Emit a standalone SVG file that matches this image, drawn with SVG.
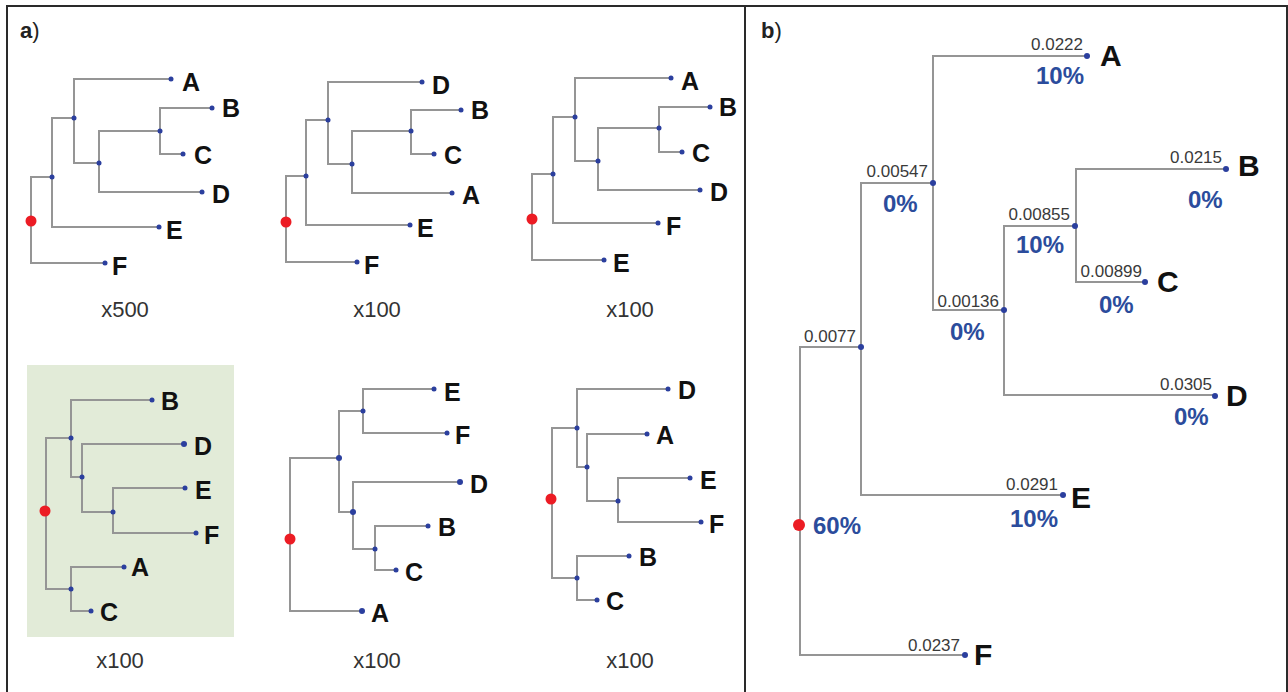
<svg xmlns="http://www.w3.org/2000/svg" width="1288" height="692" viewBox="0 0 1288 692">
<style>
text{font-family:"Liberation Sans",Arial,sans-serif}
.edge{fill:none;stroke:#959595;stroke-width:2}
.frame{fill:none;stroke:#2a2a2a;stroke-width:2}
.dot{fill:#2b3f9e}
.root{fill:#ec1c24}
.leaf{font-size:25px;font-weight:bold;fill:#111}
.big{font-size:30px;font-weight:bold;fill:#111}
.cap{font-size:22px;fill:#333;text-anchor:middle}
.num{font-size:17px;fill:#3a3a3a;text-anchor:end}
.pct{font-size:24px;font-weight:bold;fill:#2b4c9c}
.panel{font-size:22px;fill:#222}
</style>
<rect width="1288" height="692" fill="#fff"/>
<g id="frame">
<path class="frame" d="M7,692 V6 H1287 V692 M745,6 V692"/>
<text class="panel" x="20" y="38"><tspan font-weight="bold">a</tspan>)</text>
<text class="panel" x="761" y="38"><tspan font-weight="bold">b</tspan>)</text>
</g>
<rect id="highlight" x="27" y="365" width="207" height="272" fill="#e2ebd8"/>
<g id="connectors">
<path class="edge" d="M52,177 H31 V263 H105 M74,118 H52 V227 H159 M171,79 H74 V163 H99 M160,131 H99 V192 H202 M212,108 H160 V154 H183"/>
<path class="edge" d="M306,176 H286 V262 H357 M328,120 H306 V225 H410 M422,82 H328 V164 H352 M411,131 H352 V193 H452 M461,110 H411 V154 H434"/>
<path class="edge" d="M553,174 H532 V260 H604 M575,117 H553 V223 H658 M671,78 H575 V161 H598 M659,128 H598 V190 H700 M710,107 H659 V152 H682"/>
<path class="edge" d="M71,438 H46 V589 H71 M152,400 H71 V477 H82 M184,444 H82 V512 H113 M185,488 H113 V533 H196 M124,567 H71 V611 H91"/>
<path class="edge" d="M339,458 H290 V611 H362 M363,411 H339 V512 H353 M434,389 H363 V433 H447 M460,482 H353 V549 H375 M428,526 H375 V570 H396"/>
<path class="edge" d="M577,428 H552 V578 H577 M668,389 H577 V467 H587 M647,434 H587 V501 H618 M690,478 H618 V522 H701 M629,556 H577 V600 H597"/>
<path class="edge" d="M860,347 H800 V655 H965 M933,183 H861 V495 H1063 M1087,56 H933 V310 H1004 M1076,226 H1004 V395 H1215 M1226,169 H1076 V282 H1145"/>
</g>

<g id="tree1">
<g id="t1-root"><circle class="root" cx="31" cy="221" r="5.5"/></g>
<g id="t1-n1"><circle class="dot" cx="52" cy="177" r="2.5"/></g>
<g id="t1-n2"><circle class="dot" cx="74" cy="118" r="2.5"/></g>
<g id="t1-n3"><circle class="dot" cx="99" cy="163" r="2.5"/></g>
<g id="t1-n4"><circle class="dot" cx="160" cy="131" r="2.5"/></g>
<g id="t1-A"><circle class="dot" cx="171" cy="79" r="2.5"/><text class="leaf" x="182" y="91">A</text></g>
<g id="t1-B"><circle class="dot" cx="212" cy="108" r="2.5"/><text class="leaf" x="222" y="117">B</text></g>
<g id="t1-C"><circle class="dot" cx="183" cy="154" r="2.5"/><text class="leaf" x="194" y="164">C</text></g>
<g id="t1-D"><circle class="dot" cx="202" cy="192" r="2.5"/><text class="leaf" x="212" y="203">D</text></g>
<g id="t1-E"><circle class="dot" cx="159" cy="227" r="2.5"/><text class="leaf" x="166" y="239">E</text></g>
<g id="t1-F"><circle class="dot" cx="105" cy="263" r="2.5"/><text class="leaf" x="112" y="275">F</text></g>
<text class="cap" x="125" y="317">x500</text>
</g>

<g id="tree2">
<g id="t2-root"><circle class="root" cx="286" cy="222" r="5.5"/></g>
<g id="t2-n1"><circle class="dot" cx="306" cy="176" r="2.5"/></g>
<g id="t2-n2"><circle class="dot" cx="328" cy="120" r="2.5"/></g>
<g id="t2-n3"><circle class="dot" cx="352" cy="164" r="2.5"/></g>
<g id="t2-n4"><circle class="dot" cx="411" cy="131" r="2.5"/></g>
<g id="t2-D"><circle class="dot" cx="422" cy="82" r="2.5"/><text class="leaf" x="432" y="94">D</text></g>
<g id="t2-B"><circle class="dot" cx="461" cy="110" r="2.5"/><text class="leaf" x="471" y="119">B</text></g>
<g id="t2-C"><circle class="dot" cx="434" cy="154" r="2.5"/><text class="leaf" x="444" y="164">C</text></g>
<g id="t2-A"><circle class="dot" cx="452" cy="193" r="2.5"/><text class="leaf" x="462" y="204">A</text></g>
<g id="t2-E"><circle class="dot" cx="410" cy="225" r="2.5"/><text class="leaf" x="417" y="237">E</text></g>
<g id="t2-F"><circle class="dot" cx="357" cy="262" r="2.5"/><text class="leaf" x="364" y="274">F</text></g>
<text class="cap" x="377" y="317">x100</text>
</g>

<g id="tree3">
<g id="t3-root"><circle class="root" cx="532" cy="219" r="5.5"/></g>
<g id="t3-n1"><circle class="dot" cx="553" cy="174" r="2.5"/></g>
<g id="t3-n2"><circle class="dot" cx="575" cy="117" r="2.5"/></g>
<g id="t3-n3"><circle class="dot" cx="598" cy="161" r="2.5"/></g>
<g id="t3-n4"><circle class="dot" cx="659" cy="128" r="2.5"/></g>
<g id="t3-A"><circle class="dot" cx="671" cy="78" r="2.5"/><text class="leaf" x="681" y="90">A</text></g>
<g id="t3-B"><circle class="dot" cx="710" cy="107" r="2.5"/><text class="leaf" x="719" y="116">B</text></g>
<g id="t3-C"><circle class="dot" cx="682" cy="152" r="2.5"/><text class="leaf" x="692" y="162">C</text></g>
<g id="t3-D"><circle class="dot" cx="700" cy="190" r="2.5"/><text class="leaf" x="710" y="201">D</text></g>
<g id="t3-F"><circle class="dot" cx="658" cy="223" r="2.5"/><text class="leaf" x="666" y="235">F</text></g>
<g id="t3-E"><circle class="dot" cx="604" cy="260" r="2.5"/><text class="leaf" x="613" y="272">E</text></g>
<text class="cap" x="630" y="317">x100</text>
</g>

<g id="tree4">
<g id="t4-root"><circle class="root" cx="45" cy="511" r="5.5"/></g>
<g id="t4-n1"><circle class="dot" cx="71" cy="438" r="2.5"/></g>
<g id="t4-n2"><circle class="dot" cx="82" cy="477" r="2.5"/></g>
<g id="t4-n3"><circle class="dot" cx="113" cy="512" r="2.5"/></g>
<g id="t4-n5"><circle class="dot" cx="71" cy="589" r="2.5"/></g>
<g id="t4-B"><circle class="dot" cx="152" cy="400" r="2.5"/><text class="leaf" x="161" y="410">B</text></g>
<g id="t4-D"><circle class="dot" cx="184" cy="444" r="3"/><text class="leaf" x="194" y="455">D</text></g>
<g id="t4-E"><circle class="dot" cx="185" cy="488" r="2.5"/><text class="leaf" x="195" y="499">E</text></g>
<g id="t4-F"><circle class="dot" cx="196" cy="533" r="2.5"/><text class="leaf" x="204" y="544">F</text></g>
<g id="t4-A"><circle class="dot" cx="124" cy="567" r="2.5"/><text class="leaf" x="131" y="576">A</text></g>
<g id="t4-C"><circle class="dot" cx="91" cy="611" r="2.5"/><text class="leaf" x="100" y="621">C</text></g>
<text class="cap" x="120" y="668">x100</text>
</g>

<g id="tree5">
<g id="t5-root"><circle class="root" cx="290" cy="539" r="5.5"/></g>
<g id="t5-n1"><circle class="dot" cx="339" cy="458" r="3"/></g>
<g id="t5-n2"><circle class="dot" cx="363" cy="411" r="2.5"/></g>
<g id="t5-n3"><circle class="dot" cx="353" cy="512" r="3"/></g>
<g id="t5-n4"><circle class="dot" cx="375" cy="549" r="2.5"/></g>
<g id="t5-E"><circle class="dot" cx="434" cy="389" r="2.5"/><text class="leaf" x="444" y="401">E</text></g>
<g id="t5-F"><circle class="dot" cx="447" cy="433" r="2.5"/><text class="leaf" x="455" y="444">F</text></g>
<g id="t5-D"><circle class="dot" cx="460" cy="482" r="3"/><text class="leaf" x="470" y="493">D</text></g>
<g id="t5-B"><circle class="dot" cx="428" cy="526" r="2.5"/><text class="leaf" x="438" y="536">B</text></g>
<g id="t5-C"><circle class="dot" cx="396" cy="570" r="2.5"/><text class="leaf" x="405" y="581">C</text></g>
<g id="t5-A"><circle class="dot" cx="362" cy="611" r="3"/><text class="leaf" x="371" y="622">A</text></g>
<text class="cap" x="377" y="668">x100</text>
</g>

<g id="tree6">
<g id="t6-root"><circle class="root" cx="551" cy="499" r="5.5"/></g>
<g id="t6-n1"><circle class="dot" cx="577" cy="428" r="2.5"/></g>
<g id="t6-n2"><circle class="dot" cx="587" cy="467" r="2.5"/></g>
<g id="t6-n3"><circle class="dot" cx="618" cy="501" r="2.5"/></g>
<g id="t6-n5"><circle class="dot" cx="577" cy="578" r="2.5"/></g>
<g id="t6-D"><circle class="dot" cx="668" cy="389" r="2.5"/><text class="leaf" x="678" y="399">D</text></g>
<g id="t6-A"><circle class="dot" cx="647" cy="434" r="2.5"/><text class="leaf" x="656" y="444">A</text></g>
<g id="t6-E"><circle class="dot" cx="690" cy="478" r="2.5"/><text class="leaf" x="700" y="489">E</text></g>
<g id="t6-F"><circle class="dot" cx="701" cy="522" r="2.5"/><text class="leaf" x="709" y="533">F</text></g>
<g id="t6-B"><circle class="dot" cx="629" cy="556" r="2.5"/><text class="leaf" x="639" y="566">B</text></g>
<g id="t6-C"><circle class="dot" cx="597" cy="600" r="2.5"/><text class="leaf" x="606" y="610">C</text></g>
<text class="cap" x="630" y="668">x100</text>
</g>

<g id="treeb">
<g id="b-root"><circle class="root" cx="799" cy="525" r="6"/><text class="pct" x="813" y="534">60%</text></g>
<g id="b-n0077"><circle class="dot" cx="861" cy="347" r="3"/><text class="num" x="856" y="342">0.0077</text></g>
<g id="b-n00547"><circle class="dot" cx="933" cy="183" r="3"/><text class="num" x="928" y="177">0.00547</text><text class="pct" x="883" y="212">0%</text></g>
<g id="b-n00136"><circle class="dot" cx="1004" cy="310" r="3"/><text class="num" x="999" y="307">0.00136</text><text class="pct" x="950" y="340">0%</text></g>
<g id="b-n00855"><circle class="dot" cx="1075" cy="226" r="3"/><text class="num" x="1070" y="220">0.00855</text><text class="pct" x="1016" y="253">10%</text></g>
<g id="b-A"><circle class="dot" cx="1087" cy="56" r="3"/><text class="num" x="1083" y="50">0.0222</text><text class="pct" x="1036" y="84">10%</text><text class="big" x="1100" y="66">A</text></g>
<g id="b-B"><circle class="dot" cx="1226" cy="169" r="3"/><text class="num" x="1222" y="163">0.0215</text><text class="pct" x="1188" y="208">0%</text><text class="big" x="1238" y="176">B</text></g>
<g id="b-C"><circle class="dot" cx="1145" cy="282" r="3"/><text class="num" x="1142" y="277">0.00899</text><text class="pct" x="1099" y="313">0%</text><text class="big" x="1157" y="292">C</text></g>
<g id="b-D"><circle class="dot" cx="1215" cy="396" r="3"/><text class="num" x="1212" y="390">0.0305</text><text class="pct" x="1174" y="425">0%</text><text class="big" x="1226" y="406">D</text></g>
<g id="b-E"><circle class="dot" cx="1063" cy="495" r="3"/><text class="num" x="1058" y="490">0.0291</text><text class="pct" x="1010" y="527">10%</text><text class="big" x="1071" y="508">E</text></g>
<g id="b-F"><circle class="dot" cx="965" cy="655" r="3"/><text class="num" x="960" y="651">0.0237</text><text class="big" x="974" y="665">F</text></g>
</g>
</svg>
